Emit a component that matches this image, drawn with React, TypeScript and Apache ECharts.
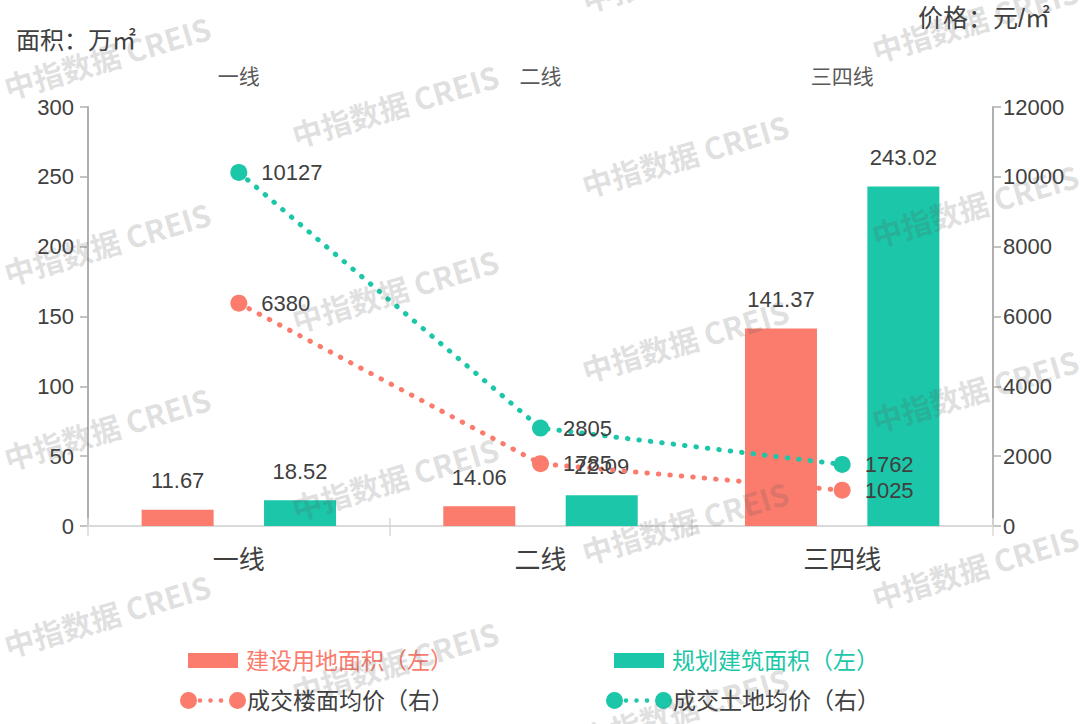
import React, { useEffect, useRef } from 'react';
import * as echarts from 'echarts';

const categories = ['一线', '二线', '三四线'];
const landAreaName = '建设用地面积（左）';
const buildAreaName = '规划建筑面积（左）';
const floorPriceName = '成交楼面均价（右）';
const landPriceName = '成交土地均价（右）';
const landArea = [11.67, 14.06, 141.37];
const buildArea = [18.52, 22.09, 243.02];
const floorPrice = [6380, 1785, 1025];
const landPrice = [10127, 2805, 1762];
const leftMin = 0, leftMax = 300, leftInterval = 50;
const rightMin = 0, rightMax = 12000, rightInterval = 2000;

const CORAL = '#FB7B6D';
const TEAL = '#1CC6A8';
const TXT = '#404040';
const FONT = '"Liberation Sans", "Noto Sans CJK SC", sans-serif';

const watermarkCenters: [number, number][] = [
  [107, 57], [107, 243], [107, 428], [107, 615],
  [395, 105], [395, 290], [395, 478], [395, 662],
  [685, -30], [685, 155], [685, 340], [685, 522], [685, 708],
  [975, 20], [975, 205], [975, 390], [975, 567],
];

const lineIcon =
  'path://M0,9A8.5,8.5 0 1 1 17,9A8.5,8.5 0 1 1 0,9Z' +
  'M17.7,9A2.3,2.3 0 1 1 22.3,9A2.3,2.3 0 1 1 17.7,9Z' +
  'M28.2,9A2.3,2.3 0 1 1 32.8,9A2.3,2.3 0 1 1 28.2,9Z' +
  'M38.7,9A2.3,2.3 0 1 1 43.3,9A2.3,2.3 0 1 1 38.7,9Z' +
  'M49,9A8.5,8.5 0 1 1 66,9A8.5,8.5 0 1 1 49,9Z';

export default function App() {
  const ref = useRef<HTMLDivElement>(null);
  useEffect(() => {
    if (!ref.current) return;
    const chart = echarts.init(ref.current, undefined, { renderer: 'svg' });
    const legendBase = {
      orient: 'horizontal',
      textStyle: { fontSize: 23, fontFamily: FONT },
      itemGap: 0,
      padding: 0,
      selectedMode: false,
    };
    const option: any = {
      animation: false,
      backgroundColor: '#ffffff',
      textStyle: { fontFamily: FONT },
      grid: { left: 88, right: 87, top: 107, bottom: 198 },
      xAxis: [
        {
          type: 'category',
          position: 'bottom',
          data: categories,
          axisLine: { show: true, lineStyle: { color: '#d9d9d9', width: 2 } },
          axisTick: { show: true, length: 10, lineStyle: { color: '#d9d9d9', width: 1.5 } },
          axisLabel: { fontSize: 26, color: TXT, margin: 21, fontFamily: FONT },
        },
        {
          type: 'category',
          position: 'top',
          data: categories,
          axisLine: { show: true, lineStyle: { color: '#d9d9d9', width: 2 } },
          axisTick: { show: true, length: 8, lineStyle: { color: '#d9d9d9', width: 1.5 } },
          axisLabel: { fontSize: 21, color: '#595959', margin: 20, fontFamily: FONT },
        },
      ],
      yAxis: [
        {
          type: 'value',
          position: 'left',
          min: leftMin,
          max: leftMax,
          interval: leftInterval,
          splitLine: { show: false },
          axisLine: { show: true, lineStyle: { color: '#b0b0b0', width: 2 } },
          axisTick: { show: true, length: 8, lineStyle: { color: '#b0b0b0', width: 1.5 } },
          axisLabel: { fontSize: 22, color: TXT, margin: 14, fontFamily: FONT },
        },
        {
          type: 'value',
          position: 'right',
          min: rightMin,
          max: rightMax,
          interval: rightInterval,
          splitLine: { show: false },
          axisLine: { show: true, lineStyle: { color: '#b0b0b0', width: 2 } },
          axisTick: { show: true, length: 8, lineStyle: { color: '#b0b0b0', width: 1.5 } },
          axisLabel: { fontSize: 22, color: TXT, margin: 10, fontFamily: FONT, formatter: (v: number) => String(v) },
        },
      ],
      legend: [
        {
          ...legendBase,
          left: 188,
          top: 649,
          itemWidth: 50,
          itemHeight: 15,
          data: [{ name: landAreaName, icon: 'rect', textStyle: { color: CORAL, fontSize: 23, fontFamily: FONT, padding: [0, 0, 0, 3] } }],
        },
        {
          ...legendBase,
          left: 614,
          top: 649,
          itemWidth: 50,
          itemHeight: 15,
          data: [{ name: buildAreaName, icon: 'rect', textStyle: { color: TEAL, fontSize: 23, fontFamily: FONT, padding: [0, 0, 0, 3] } }],
        },
        {
          ...legendBase,
          left: 180,
          top: 689,
          itemWidth: 66,
          itemHeight: 17,
          data: [{ name: floorPriceName, icon: lineIcon, itemStyle: { color: CORAL }, textStyle: { color: TXT, fontSize: 23, fontFamily: FONT, padding: [0, 0, 0, -4] } }],
        },
        {
          ...legendBase,
          left: 606,
          top: 689,
          itemWidth: 66,
          itemHeight: 17,
          data: [{ name: landPriceName, icon: lineIcon, itemStyle: { color: TEAL }, textStyle: { color: TXT, fontSize: 23, fontFamily: FONT, padding: [0, 0, 0, -4] } }],
        },
      ],
      series: [
        {
          name: landAreaName,
          type: 'bar',
          xAxisIndex: 0,
          yAxisIndex: 0,
          data: landArea,
          barWidth: 72,
          barGap: '70%',
          itemStyle: { color: CORAL },
          label: { show: true, position: 'top', distance: 18, fontSize: 22, color: TXT, fontFamily: FONT },
        },
        {
          name: buildAreaName,
          type: 'bar',
          xAxisIndex: 0,
          yAxisIndex: 0,
          data: buildArea,
          barWidth: 72,
          barGap: '70%',
          itemStyle: { color: TEAL },
          label: { show: true, position: 'top', distance: 18, fontSize: 22, color: TXT, fontFamily: FONT },
        },
        {
          name: floorPriceName,
          type: 'line',
          xAxisIndex: 0,
          yAxisIndex: 1,
          data: floorPrice,
          symbol: 'circle',
          symbolSize: 17,
          z: 5,
          itemStyle: { color: CORAL },
          lineStyle: { color: CORAL, width: 5, type: [0.5, 11], cap: 'round' },
          label: { show: true, position: 'right', distance: 14, fontSize: 22, color: TXT, fontFamily: FONT },
        },
        {
          name: landPriceName,
          type: 'line',
          xAxisIndex: 0,
          yAxisIndex: 1,
          data: landPrice,
          symbol: 'circle',
          symbolSize: 17,
          z: 5,
          itemStyle: { color: TEAL },
          lineStyle: { color: TEAL, width: 5, type: [0.5, 11], cap: 'round' },
          label: { show: true, position: 'right', distance: 14, fontSize: 22, color: TXT, fontFamily: FONT },
        },
      ],
      graphic: [
        {
          type: 'text',
          left: 16,
          top: 28,
          style: { text: '面积：万㎡', fontSize: 24, fill: TXT, fontFamily: FONT },
        },
        {
          type: 'text',
          right: 30,
          top: 5,
          style: { text: '价格：元/㎡', fontSize: 25, fill: TXT, fontFamily: FONT },
        },
        ...watermarkCenters.map(([x, y]) => ({
          type: 'text',
          x,
          y,
          rotation: 0.29,
          z: 100,
          silent: true,
          style: {
            text: '中指数据 CREIS',
            fontSize: 30,
            fontWeight: 'bold',
            fontFamily: '"Noto Sans CJK SC", "Liberation Sans", sans-serif',
            fill: 'rgba(90,90,90,0.2)',
            align: 'center',
            verticalAlign: 'middle',
          },
        })),
      ],
    };
    chart.setOption(option);
    return () => chart.dispose();
  }, []);
  return (
    <div
      ref={ref}
      style={{ position: 'fixed', left: 0, top: 0, width: 1080, height: 724, background: '#fff' }}
    />
  );
}
